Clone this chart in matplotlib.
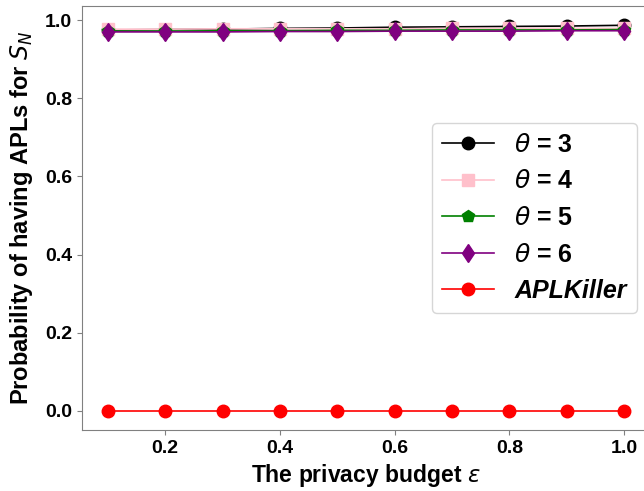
import matplotlib.pyplot as plt

plt.rcParams['font.family'] = ['Liberation Sans', 'DejaVu Sans']
plt.rcParams['mathtext.fontset'] = 'dejavusans'

eps = [0.1, 0.2, 0.3, 0.4, 0.5, 0.6, 0.7, 0.8, 0.9, 1.0]
theta3 = [0.975, 0.976, 0.977, 0.979, 0.980, 0.982, 0.983, 0.984, 0.985, 0.987]
theta4 = [0.977, 0.977, 0.978, 0.978, 0.978, 0.978, 0.979, 0.979, 0.979, 0.979]
theta5 = [0.972, 0.972, 0.973, 0.973, 0.974, 0.974, 0.975, 0.975, 0.975, 0.976]
theta6 = [0.970, 0.970, 0.970, 0.971, 0.971, 0.972, 0.972, 0.972, 0.973, 0.973]
aplkiller = [0.0] * 10

fig = plt.figure(figsize=(6.44, 4.91), dpi=100)
ax = fig.add_axes([82 / 644, 61 / 491, 568 / 644, 424 / 491])

ax.plot(eps, theta3, color='black', marker='o', markersize=9, linewidth=1.2, label=r'$\theta$ = 3')
ax.plot(eps, theta4, color='pink', marker='s', markersize=9, linewidth=1.2, label=r'$\theta$ = 4')
ax.plot(eps, theta5, color='green', marker='p', markersize=9, linewidth=1.2, label=r'$\theta$ = 5')
ax.plot(eps, theta6, color='purple', marker='d', markersize=9.5, linewidth=1.2, label=r'$\theta$ = 6')
ax.plot(eps, aplkiller, color='red', marker='o', markersize=9, linewidth=1.2, label='APLKiller')

for s in ax.spines.values():
    s.set_color('gray')
ax.tick_params(labelsize=14, colors='black')
ax.tick_params(axis='both', color='gray')
for lbl in ax.get_xticklabels() + ax.get_yticklabels():
    lbl.set_fontweight('bold')
ax.set_xlabel(r'The privacy budget $\epsilon$', fontsize=16.5, fontweight='bold')
ax.set_ylabel(r'Probability of having APLs for $S_N$', fontsize=17, fontweight='bold',
              labelpad=7)

leg = ax.legend(loc='center right', bbox_to_anchor=(0.977, 0.5), borderaxespad=0,
                prop={'size': 18, 'weight': 'bold'}, handlelength=2.1,
                handletextpad=0.8, labelspacing=0.5)
leg.get_texts()[4].set_fontstyle('italic')

fig.savefig('out.png', dpi=100)
